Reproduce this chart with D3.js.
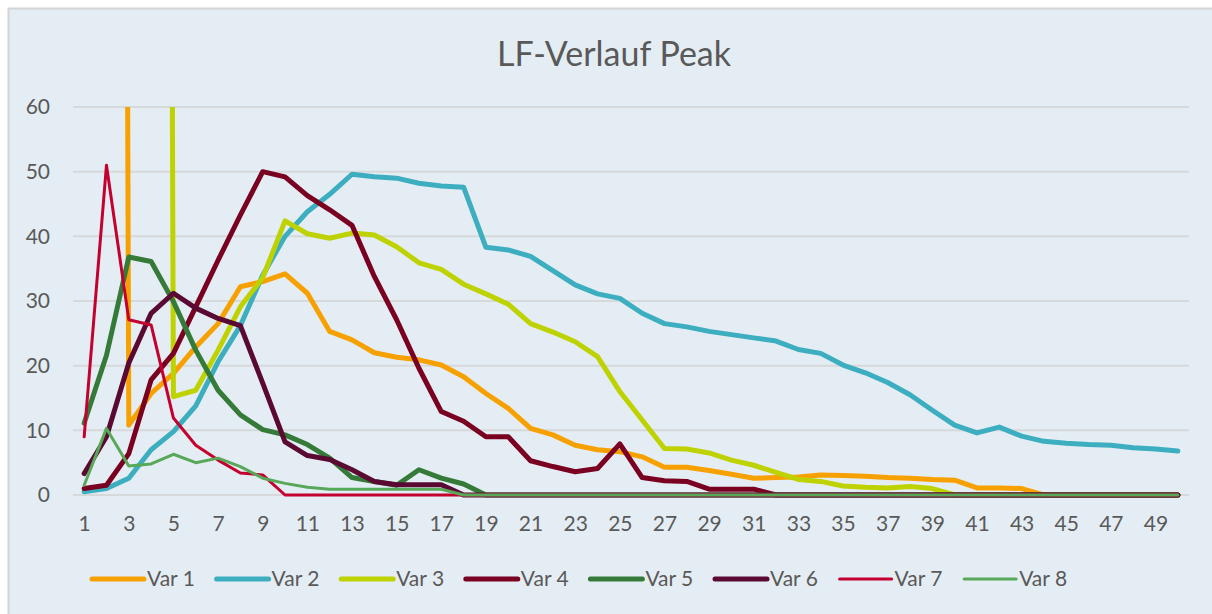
<!DOCTYPE html>
<html>
<head>
<meta charset="utf-8">
<script src="https://cdn.jsdelivr.net/npm/d3@7"></script>
<style>
  body { margin: 0; background: #fff; }
  svg { display: block; }
  text { font-family: Lato, "Open Sans", sans-serif; fill: #595959; }
</style>
</head>
<body>
<div id="chart"></div>
<script>
// categories 1..50
var categories = [1,2,3,4,5,6,7,8,9,10,11,12,13,14,15,16,17,18,19,20,21,22,23,24,25,26,27,28,29,30,31,32,33,34,35,36,37,38,39,40,41,42,43,44,45,46,47,48,49,50];
var yTicks = [0, 10, 20, 30, 40, 50, 60];

// series values (first points of Var 1 / Var 3 are far off scale)
var var1 = [1250, 980, 10.8, 15.7, 18.8, 22.9, 26.5, 32.2, 33.0, 34.2, 31.2, 25.3, 24.0, 22.0, 21.3, 20.9, 20.1, 18.3, 15.7, 13.4, 10.3, 9.3, 7.7, 7.0, 6.7, 5.9, 4.3, 4.3, 3.8, 3.2, 2.6, 2.7, 2.8, 3.1, 3.0, 2.9, 2.7, 2.6, 2.4, 2.3, 1.1, 1.1, 1.0, 0, 0, 0, 0, 0, 0, 0];
var var2 = [0.5, 1.0, 2.6, 7.0, 9.8, 13.8, 20.6, 26.2, 34.0, 40.0, 43.8, 46.5, 49.6, 49.2, 49.0, 48.2, 47.8, 47.6, 38.3, 37.9, 36.9, 34.7, 32.5, 31.1, 30.4, 28.1, 26.5, 26.0, 25.3, 24.8, 24.3, 23.8, 22.5, 21.9, 20.1, 18.9, 17.4, 15.5, 13.1, 10.8, 9.6, 10.5, 9.1, 8.3, 8.0, 7.8, 7.7, 7.3, 7.1, 6.8];
var var3 = [1100, 1300, 1200, 950, 15.2, 16.2, 22.4, 29.1, 33.6, 42.4, 40.4, 39.7, 40.5, 40.2, 38.4, 35.9, 34.9, 32.6, 31.1, 29.5, 26.5, 25.2, 23.7, 21.4, 16.0, 11.6, 7.2, 7.1, 6.5, 5.4, 4.6, 3.5, 2.4, 2.1, 1.4, 1.2, 1.1, 1.3, 1.0, 0, 0, 0, 0, 0, 0, 0, 0, 0, 0, 0];
var var4 = [1.0, 1.5, 6.4, 17.8, 21.9, 29.1, 36.3, 43.3, 50.0, 49.2, 46.3, 44.1, 41.7, 33.8, 27.1, 19.6, 12.9, 11.4, 9.0, 9.0, 5.3, 4.4, 3.6, 4.1, 7.9, 2.7, 2.2, 2.1, 0.9, 0.9, 0.9, 0, 0, 0, 0, 0, 0, 0, 0, 0, 0, 0, 0, 0, 0, 0, 0, 0, 0, 0];
var var5 = [11.1, 21.6, 36.8, 36.1, 29.9, 22.4, 16.2, 12.4, 10.1, 9.3, 7.8, 5.7, 2.7, 2.1, 1.5, 3.9, 2.6, 1.7, 0, 0, 0, 0, 0, 0, 0, 0, 0, 0, 0, 0, 0, 0, 0, 0, 0, 0, 0, 0, 0, 0, 0, 0, 0, 0, 0, 0, 0, 0, 0, 0];
var var6 = [3.3, 9.0, 20.4, 28.1, 31.2, 28.9, 27.3, 26.2, 17.3, 8.2, 6.1, 5.5, 3.9, 2.1, 1.6, 1.6, 1.6, 0, 0, 0, 0, 0, 0, 0, 0, 0, 0, 0, 0, 0, 0, 0, 0, 0, 0, 0, 0, 0, 0, 0, 0, 0, 0, 0, 0, 0, 0, 0, 0, 0];
var var7 = [9.0, 51.0, 27.1, 26.3, 11.9, 7.7, 5.4, 3.4, 3.1, 0, 0, 0, 0, 0, 0, 0, 0, 0, 0, 0, 0, 0, 0, 0, 0, 0, 0, 0, 0, 0, 0, 0, 0, 0, 0, 0, 0, 0, 0, 0, 0, 0, 0, 0, 0, 0, 0, 0, 0, 0];
var var8 = [1.5, 10.3, 4.5, 4.8, 6.3, 5.0, 5.7, 4.4, 2.6, 1.8, 1.2, 0.9, 0.9, 0.9, 0.9, 0.9, 0.9, 0, 0, 0, 0, 0, 0, 0, 0, 0, 0, 0, 0, 0, 0, 0, 0, 0, 0, 0, 0, 0, 0, 0, 0, 0, 0, 0, 0, 0, 0, 0, 0, 0];

var seriesNames = ['Var 1', 'Var 2', 'Var 3', 'Var 4', 'Var 5', 'Var 6', 'Var 7', 'Var 8'];
var seriesValues = [var1, var2, var3, var4, var5, var6, var7, var8];
var colors = ['#F7A100', '#3CAEC0', '#BED200', '#7A0022', '#357A38', '#5A0A32', '#C4002F', '#58A85A'];
var widths = [5, 5, 5, 5, 5, 5, 3, 3];

var width = 1212, height = 614;
var svg = d3.select('#chart').append('svg')
    .attr('width', width)
    .attr('height', height);

// chart area
svg.append('rect')
    .attr('x', 8.5).attr('y', 8.5)
    .attr('width', width).attr('height', height)
    .style('fill', '#E5EDF4')
    .style('stroke', '#D4D4D4')
    .style('stroke-width', 2);

svg.append('text')
    .attr('x', 614).attr('y', 66)
    .attr('text-anchor', 'middle')
    .style('font-size', '34px')
    .text('LF-Verlauf Peak');

var x = d3.scalePoint().domain(categories).range([73, 1189]).padding(0.5);
var y = d3.scaleLinear().domain([0, 60]).range([495, 107]);

// gridlines
svg.append('g').selectAll('line').data(yTicks).enter().append('line')
    .attr('x1', 73).attr('x2', 1189)
    .attr('y1', function(d) { return y(d); })
    .attr('y2', function(d) { return y(d); })
    .style('stroke', '#D6D8DA')
    .style('stroke-width', 2);

// y axis labels
var yAxis = svg.append('g')
    .attr('transform', 'translate(50,0)')
    .call(d3.axisLeft(y).tickValues(yTicks).tickSize(0).tickPadding(0));
yAxis.select('.domain').remove();
yAxis.selectAll('text').style('font-size', '21px').style('fill', '#595959');

// x axis labels (every second category)
var xAxis = svg.append('g')
    .attr('transform', 'translate(0,516)')
    .call(d3.axisBottom(x)
        .tickValues(categories.filter(function(c) { return c % 2 === 1; }))
        .tickSize(0).tickPadding(0));
xAxis.select('.domain').remove();
xAxis.selectAll('text').style('font-size', '21px').style('fill', '#595959');

svg.append('clipPath').attr('id', 'plotclip')
    .append('rect').attr('x', 60).attr('y', 107).attr('width', 1140).attr('height', 400);

var line = d3.line()
    .x(function(d, i) { return x(categories[i]); })
    .y(function(d) { return y(d); });

svg.append('g').attr('clip-path', 'url(#plotclip)')
    .selectAll('path').data(seriesValues).enter().append('path')
    .attr('d', line)
    .style('fill', 'none')
    .style('stroke', function(d, i) { return colors[i]; })
    .style('stroke-width', function(d, i) { return widths[i]; })
    .style('stroke-linejoin', 'round')
    .style('stroke-linecap', 'round');

// legend
var legend = svg.append('g').selectAll('g').data(seriesNames).enter().append('g')
    .attr('transform', function(d, i) { return 'translate(' + (92 + i * 124.6) + ',579)'; });
legend.append('line')
    .attr('x1', 0).attr('x2', 52)
    .style('stroke', function(d, i) { return colors[i]; })
    .style('stroke-width', function(d, i) { return widths[i]; })
    .style('stroke-linecap', 'round');
legend.append('text')
    .attr('x', 55).attr('dy', '0.35em')
    .style('font-size', '21px')
    .text(function(d) { return d; });
</script>
</body>
</html>
